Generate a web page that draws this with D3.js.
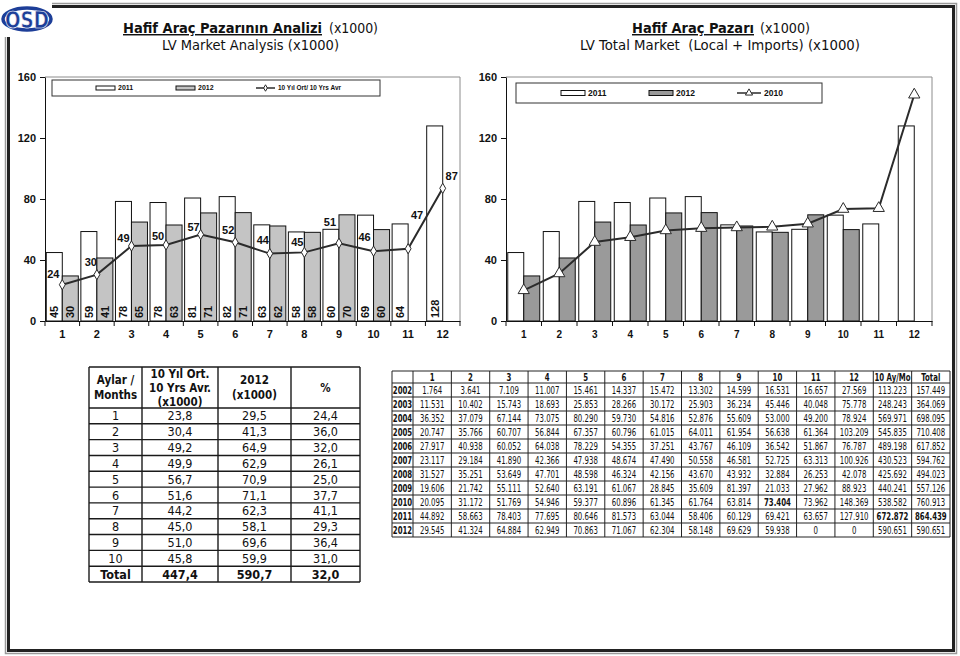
<!DOCTYPE html>
<html><head><meta charset="utf-8">
<script src="https://cdn.jsdelivr.net/npm/d3@7"></script>
<style>body{margin:0;background:#fff}svg{display:block}</style>
</head><body>
<svg id="c" width="960" height="656"></svg>
<script>
// ---------------- DATA ----------------
const months = [1,2,3,4,5,6,7,8,9,10,11,12];
const series2011 = [44.892,58.663,78.403,77.695,80.646,81.573,63.044,58.406,60.129,69.421,63.657,127.910];
const series2012 = [29.545,41.324,64.884,62.949,70.863,71.067,62.304,58.148,69.629,59.938];
const series2010 = [20.095,31.172,51.769,54.946,59.377,60.896,61.345,61.764,63.814,73.404,73.962,148.369];
const avg10yr = [23.8,30.4,49.2,49.9,56.7,51.6,44.2,45.0,51.0,45.8,47.4,87.0];
const yTicks = [0,40,80,120,160];

const summaryRows = ["1","2","3","4","5","6","7","8","9","10","Total"];
const summaryAvg = [23.8,30.4,49.2,49.9,56.7,51.6,44.2,45.0,51.0,45.8,447.4];
const summary2012 = [29.5,41.3,64.9,62.9,70.9,71.1,62.3,58.1,69.6,59.9,590.7];
const summaryPct = [24.4,36.0,32.0,26.1,25.0,37.7,41.1,29.3,36.4,31.0,32.0];

const tableYears = [2002,2003,2004,2005,2006,2007,2008,2009,2010,2011,2012];
const tableCols = ["1","2","3","4","5","6","7","8","9","10","11","12","10 Ay/Mo","Total"];
const t2002 = [1764,3641,7109,11007,15461,14337,15472,13302,14599,16531,16657,27569,113223,157449];
const t2003 = [11531,10402,15743,18693,25853,28266,30172,25903,36234,45446,40048,75778,248243,364069];
const t2004 = [36352,37079,67144,73075,80290,59730,54816,52876,55609,53000,49200,78924,569971,698095];
const t2005 = [20747,35766,60707,56844,67357,60796,61015,64011,61954,56638,61364,103209,545835,710408];
const t2006 = [27917,40938,60052,64038,78229,54355,37251,43767,46109,36542,51867,76787,489198,617852];
const t2007 = [23117,29184,41890,42366,47938,48674,47490,50558,46581,52725,63313,100926,430523,594762];
const t2008 = [31527,35251,53649,47701,48598,46324,42156,43670,43932,32884,26253,42078,425692,494023];
const t2009 = [19606,21742,55111,52640,63191,61067,28845,35609,81397,21033,27962,88923,440241,557126];
const t2010 = [20095,31172,51769,54946,59377,60896,61345,61764,63814,73404,73962,148369,538582,760913];
const t2011 = [44892,58663,78403,77695,80646,81573,63044,58406,60129,69421,63657,127910,672872,864439];
const t2012 = [29545,41324,64884,62949,70863,71067,62304,58148,69629,59938,0,0,590651,590651];
const tableData = [t2002,t2003,t2004,t2005,t2006,t2007,t2008,t2009,t2010,t2011,t2012];
const boldCells = [[2010,"10"],[2011,"10 Ay/Mo"],[2011,"Total"]];

// ---------------- DRAW ----------------
const svg = d3.select("#c");
svg.append("rect").attr("width",960).attr("height",656).attr("fill","#fff");
const AX = "'Liberation Sans', Arial, sans-serif";
const TT = "'DejaVu Sans Condensed','DejaVu Sans',sans-serif";
const trLoc = d3.formatLocale({decimal:",", thousands:".", grouping:[3], currency:["",""]});
const fmtInt = trLoc.format(",d");
const fmt1 = trLoc.format(".1f");

// frame
svg.append("path").attr("d","M52,3.5H956.5V653.5H5.5V37").attr("fill","none").attr("stroke","#9a9a9a").attr("stroke-width",1.5);
svg.append("path").attr("d","M52,6.5H953.5V650.5H8.5V37").attr("fill","none").attr("stroke","#222").attr("stroke-width",3);

// logo
const logo = svg.append("g");
logo.append("ellipse").attr("cx",27).attr("cy",19).attr("rx",24).attr("ry",11)
  .attr("fill","none").attr("stroke","#1d3e98").attr("stroke-width",3.5);
logo.append("text").attr("x",5).attr("y",28).attr("textLength",44).attr("lengthAdjust","spacingAndGlyphs")
  .attr("font-family","'DejaVu Sans',sans-serif").attr("font-weight",900).attr("font-size",23)
  .attr("fill","#1d3e98").attr("stroke","#fff").attr("stroke-width",0.6).text("OSD");

// titles
function title(x, y, txt, w, bold, ul){
  svg.append("text").attr("x",x).attr("y",y).attr("textLength",w).attr("lengthAdjust","spacingAndGlyphs")
    .attr("font-family",TT).attr("font-size",14.5).attr("font-weight",bold?"bold":"normal")
    .attr("text-decoration",ul?"underline":null).style("white-space","pre").attr("fill","#111").text(txt);
}
title(123,33,"Hafif Araç Pazarının Analizi",199,true,true);
title(329,33,"(x1000)",49,false,false);
title(162,50,"LV Market Analysis (x1000)",177,false,false);
title(632,33,"Hafif Araç Pazarı",122,true,true);
title(760,33,"(x1000)",50,false,false);
title(580,50,"LV Total Market  (Local + Imports) (x1000)",280,false,false);

function drawChart(o){
  const g = svg.append("g");
  const x = d3.scaleBand().domain(months).range([o.x0,o.x1]);
  const xs = d3.scaleBand().domain(["a","b"]).range([0,x.bandwidth()]).paddingOuter(o.po).paddingInner(0);
  const y = d3.scaleLinear().domain([0,160]).range([321,77]);
  const cx = i => x(months[i]) + x.bandwidth()/2;

  g.append("path").attr("d",`M${o.x0},${y(160)}H${o.x1}V${y(0)}`).attr("fill","none").attr("stroke","#8c8c8c");

  g.selectAll(".b11").data(series2011).join("rect")
    .attr("x",(d,i)=>x(months[i])+xs("a")).attr("y",d=>y(d))
    .attr("width",xs.bandwidth()).attr("height",d=>y(0)-y(d))
    .attr("fill","#fff").attr("stroke","#111").attr("stroke-width",1);
  g.selectAll(".b12").data(series2012).join("rect")
    .attr("x",(d,i)=>x(months[i])+xs("b")).attr("y",d=>y(d))
    .attr("width",xs.bandwidth()).attr("height",d=>y(0)-y(d))
    .attr("fill",o.gray).attr("stroke","#111").attr("stroke-width",1);

  if(o.barLabels){
    const lab = (arr,key) => g.selectAll(".l"+key).data(arr).join("text")
      .attr("transform",(d,i)=>`translate(${x(months[i])+xs(key)+xs.bandwidth()/2},${y(0)-3}) rotate(-90)`)
      .attr("dy","0.35em").attr("font-family",AX).attr("font-weight","bold").attr("font-size",11)
      .attr("fill","#111").text(d=>Math.round(d));
    lab(series2011,"a"); lab(series2012,"b");
  }

  // axes
  const ya = g.append("g").attr("transform",`translate(${o.x0},0)`)
    .call(d3.axisLeft(y).tickValues(yTicks).tickSize(5).tickSizeOuter(0).tickPadding(4));
  ya.selectAll("text").attr("font-family",AX).attr("font-weight","bold").attr("font-size",11).attr("fill","#111");
  ya.selectAll("line,path").attr("stroke","#111");

  const xa = g.append("g").attr("transform",`translate(0,${y(0)})`)
    .call(d3.axisBottom(x).tickSize(0).tickSizeOuter(0).tickPadding(o.xpad));
  xa.selectAll("text").attr("font-family",AX).attr("font-weight","bold").attr("font-size",o.xfs).attr("fill","#111");
  xa.select(".domain").attr("stroke","#111");
  g.selectAll(".bt").data(d3.range(13)).join("line")
    .attr("x1",i=>o.x0+i*x.step()).attr("x2",i=>o.x0+i*x.step())
    .attr("y1",y(0)).attr("y2",y(0)+5).attr("stroke","#111");

  // line
  const ls = o.lineData;
  g.append("path").datum(ls).attr("fill","none").attr("stroke","#2b2b2b").attr("stroke-width",2)
    .attr("d",d3.line().x((d,i)=>cx(i)).y(d=>y(d)));
  g.selectAll(".mk").data(ls).join("path")
    .attr("transform",(d,i)=>`translate(${cx(i)},${y(d)})`)
    .attr("d",d3.symbol(o.sym).size(o.symSize)).attr("fill","#fff").attr("stroke","#2b2b2b").attr("stroke-width",1);

  if(o.lineLabels){
    const off = [[-9,-11],[-6,-12],[-8,-8],[-8,-9],[-7,-7],[-7,-12],[-7,-13],[-7,-10],[-9,-21],[-9,-14],[9,-34],[9,-12]];
    g.selectAll(".ll").data(ls).join("text")
      .attr("x",(d,i)=>cx(i)+off[i][0]).attr("y",(d,i)=>y(d)+off[i][1])
      .attr("dy","0.35em").attr("text-anchor","middle")
      .attr("font-family",AX).attr("font-weight","bold").attr("font-size",11).attr("fill","#111")
      .text(d=>Math.round(d));
  }

  // legend
  const L = o.legend;
  const lg = g.append("g");
  lg.append("rect").attr("x",L.x).attr("y",L.y).attr("width",L.w).attr("height",L.h)
    .attr("fill","#fff").attr("stroke","#333").attr("stroke-width",1);
  const my = L.y + L.h/2;
  lg.append("rect").attr("x",L.items[0]).attr("y",my-L.sh/2).attr("width",L.sw).attr("height",L.sh).attr("fill","#fff").attr("stroke","#111");
  lg.append("rect").attr("x",L.items[1]).attr("y",my-L.sh/2).attr("width",L.sw).attr("height",L.sh).attr("fill",o.gray).attr("stroke","#111");
  lg.append("line").attr("x1",L.items[2]).attr("x2",L.items[2]+L.sw).attr("y1",my).attr("y2",my).attr("stroke","#2b2b2b").attr("stroke-width",1.5);
  lg.append("path").attr("transform",`translate(${L.items[2]+L.sw/2},${my})`).attr("d",d3.symbol(o.sym).size(o.symSize*0.4))
    .attr("fill","#fff").attr("stroke","#2b2b2b");
  L.labels.forEach((t,k)=>{
    const tx = lg.append("text").attr("x",L.items[k]+L.sw+3).attr("y",my).attr("dy","0.35em")
      .attr("font-family",AX).attr("font-weight","bold").attr("font-size",L.fs).attr("fill","#111").text(t);
    if(L.tl[k]) tx.attr("textLength",L.tl[k]).attr("lengthAdjust","spacingAndGlyphs");
  });
}

drawChart({x0:45,x1:460,po:0.08,gray:"#c4c4c4",barLabels:true,lineLabels:true,xpad:9,xfs:11,
  lineData:avg10yr,sym:d3.symbolDiamond,symSize:30,
  legend:{x:52,y:80,w:328,h:16,sw:19,sh:4,fs:7,items:[96,176,256],
    labels:["2011","2012","10 Yıl Ort/ 10 Yrs Avr"],tl:[null,null,63]}});

drawChart({x0:506,x1:932,po:0.11,gray:"#9a9a9a",barLabels:false,lineLabels:false,xpad:10,xfs:10,
  lineData:series2010,sym:d3.symbolTriangle,symSize:55,
  legend:{x:516,y:83,w:306,h:20,sw:24,sh:5,fs:8.5,items:[561,649,737],
    labels:["2011","2012","2010"],tl:[null,null,null]}});

// ---------------- LEFT SUMMARY TABLE ----------------
(function(){
  const g = svg.append("g");
  const colX = [89,142,218,291,360];
  const top = 367, hdrB = 408, rowH = (582-408)/11;
  const rows = d3.range(summaryRows.length);
  const hdr = [["Aylar /","Months"],["10 Yıl Ort.","10 Yrs Avr.","(x1000)"],["2012","(x1000)"],["%"]];
  const hdrY = [[380,395],[374,388,402],[380,395],[388]];
  hdr.forEach((lines,c)=>{
    lines.forEach((t,k)=>{
      g.append("text").attr("x",(colX[c]+colX[c+1])/2).attr("y",hdrY[c][k]).attr("dy","0.35em")
        .attr("text-anchor","middle").attr("font-family",TT).attr("font-weight","bold").attr("font-size",11.5)
        .attr("fill","#111").text(t);
    });
  });
  const cols = [summaryRows, summaryAvg.map(fmt1), summary2012.map(fmt1), summaryPct.map(fmt1)];
  cols.forEach((arr,c)=>{
    g.selectAll(".sc"+c).data(arr).join("text")
      .attr("x",(colX[c]+colX[c+1])/2).attr("y",(d,i)=>hdrB+rowH*(i+0.5)).attr("dy","0.36em")
      .attr("text-anchor","middle").attr("font-family",TT).attr("font-size",12.5)
      .attr("font-weight",(d,i)=>i===arr.length-1?"bold":"normal").attr("fill","#111").text(d=>d);
  });
  const ys = [top,hdrB].concat(rows.map(i=>hdrB+rowH*(i+1)));
  g.selectAll(".hl").data(ys).join("line").attr("x1",colX[0]).attr("x2",colX[4]).attr("y1",d=>d).attr("y2",d=>d)
    .attr("stroke","#1a1a1a").attr("stroke-width",1.4);
  g.selectAll(".vl").data(colX).join("line").attr("x1",d=>d).attr("x2",d=>d).attr("y1",top).attr("y2",ys[ys.length-1])
    .attr("stroke","#1a1a1a").attr("stroke-width",1.4);
})();

// ---------------- RIGHT DATA TABLE ----------------
(function(){
  const g = svg.append("g");
  const x0 = 392, x1 = 413, xEnd = 950;
  const cw = (xEnd - x1) / tableCols.length;
  const colX = [x0].concat(d3.range(tableCols.length+1).map(i=>x1+i*cw));
  const top = 371, hdrB = 383, rowH = 14;
  const ys = [top,hdrB].concat(tableYears.map((d,i)=>hdrB+rowH*(i+1)));
  const sx = 0.74;
  const put = (cx, cy, t, bold) => g.append("text")
    .attr("transform",`translate(${cx},${cy}) scale(${sx},1)`).attr("dy","0.36em").attr("text-anchor","middle")
    .attr("font-family",TT).attr("font-size",10.5).attr("font-weight",bold?"bold":"normal").attr("fill","#111").text(t);
  tableCols.forEach((c,j)=> put((colX[j+1]+colX[j+2])/2, (top+hdrB)/2+0.5, c, true));
  tableYears.forEach((yr,i)=>{
    const cy = hdrB + rowH*(i+0.5);
    put((colX[0]+colX[1])/2, cy, yr, true);
    tableData[i].forEach((v,j)=>{
      const b = boldCells.some(bc=>bc[0]===yr && bc[1]===tableCols[j]);
      put((colX[j+1]+colX[j+2])/2, cy, fmtInt(v), b);
    });
  });
  g.selectAll(".hl").data(ys).join("line").attr("x1",x0).attr("x2",xEnd).attr("y1",d=>d).attr("y2",d=>d)
    .attr("stroke","#222").attr("stroke-width",1);
  g.selectAll(".vl").data(colX).join("line").attr("x1",d=>d).attr("x2",d=>d).attr("y1",top).attr("y2",ys[ys.length-1])
    .attr("stroke","#222").attr("stroke-width",1);
})();
</script>
</body></html>
